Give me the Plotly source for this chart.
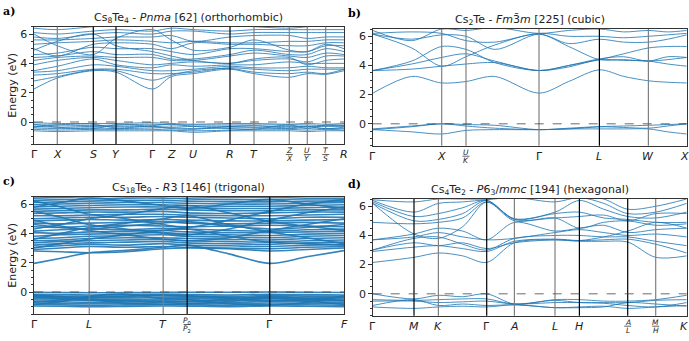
import plotly.graph_objects as go

# ---- panel a : Cs8Te4 Pnma ----
kpos_a = [0, 23.3, 59.3, 82, 118.7, 137.3, 159.3, 196, 220, 255.3, 273.3, 291.7, 310]
klab_a = ["Γ", "X", "S", "Y", "Γ", "Z", "U", "R", "T", "Z|X", "U|Y", "T|S", "R"]
kdark_a = ["S", "Y", "R"]
bands_a = [
    [-0.05, -0.1, -0.1, -0.1, -0.05, -0.1, -0.15, -0.1, -0.1, -0.15, -0.1, -0.15, -0.1],
    [-0.2, -0.2, -0.25, -0.2, -0.15, -0.2, -0.2, -0.2, -0.2, -0.2, -0.2, -0.25, -0.2],
    [-0.3, -0.35, -0.3, -0.3, -0.3, -0.35, -0.3, -0.3, -0.35, -0.3, -0.3, -0.3, -0.3],
    [-0.4, -0.45, -0.4, -0.45, -0.4, -0.4, -0.45, -0.4, -0.4, -0.45, -0.4, -0.45, -0.45],
    [-0.5, -0.55, -0.5, -0.5, -0.5, -0.55, -0.6, -0.55, -0.5, -0.5, -0.55, -0.5, -0.55],
    [-0.6, -0.65, -0.6, -0.6, -0.6, -0.6, -0.7, -0.6, -0.6, -0.6, -0.65, -0.6, -0.6],
    [-0.15, -0.35, -0.45, -0.2, -0.3, -0.45, -0.5, -0.3, -0.25, -0.4, -0.3, -0.45, -0.35],
    [-0.35, -0.2, -0.15, -0.4, -0.25, -0.15, -0.3, -0.45, -0.5, -0.2, -0.45, -0.2, -0.25],
    [2.25, 3.0, 3.5, 3.4, 2.25, 3.1, 3.3, 3.6, 3.3, 3.05, 3.3, 3.25, 3.5],
    [2.8, 3.1, 3.55, 3.5, 2.85, 3.2, 3.5, 3.65, 3.4, 3.3, 3.4, 3.3, 3.6],
    [3.2, 3.3, 3.6, 3.6, 3.3, 3.3, 3.4, 3.7, 3.6, 3.5, 3.6, 3.6, 3.6],
    [3.4, 3.5, 3.9, 3.8, 3.5, 3.5, 3.6, 3.8, 3.7, 3.7, 3.8, 3.7, 3.7],
    [3.5, 3.8, 4.3, 3.9, 3.7, 3.9, 3.8, 3.9, 3.9, 4.1, 4.0, 4.0, 4.0],
    [3.9, 4.2, 4.4, 4.2, 3.9, 4.0, 4.1, 4.0, 4.2, 4.3, 4.1, 4.5, 4.5],
    [4.2, 4.4, 4.5, 4.4, 4.4, 4.2, 4.2, 4.5, 4.7, 4.5, 4.4, 4.7, 4.6],
    [4.4, 4.5, 4.8, 4.6, 4.6, 4.3, 4.3, 4.6, 4.9, 4.6, 4.6, 5.0, 4.8],
    [4.6, 4.7, 5.1, 5.0, 5.0, 4.8, 4.6, 5.0, 5.0, 4.8, 4.8, 5.2, 5.2],
    [5.0, 4.5, 5.3, 5.4, 5.3, 5.0, 5.4, 5.3, 5.3, 5.2, 5.2, 5.4, 5.4],
    [5.3, 5.4, 5.5, 5.6, 5.5, 5.4, 5.5, 5.4, 5.4, 5.5, 5.5, 5.6, 5.6],
    [5.6, 5.6, 5.7, 5.8, 5.8, 5.9, 5.5, 5.8, 5.9, 5.9, 5.7, 5.8, 5.8],
    [5.8, 5.7, 6.0, 6.1, 6.0, 6.2, 6.2, 6.0, 6.1, 6.1, 6.1, 6.1, 6.1],
    [6.1, 6.0, 6.2, 6.3, 6.2, 6.4, 6.3, 6.2, 6.3, 6.3, 6.3, 6.3, 6.3],
    [6.4, 6.3, 6.5, 6.6, 6.6, 6.6, 6.6, 6.6, 6.5, 6.4, 6.5, 6.6, 6.5],
    [4.9, 5.5, 6.0, 5.2, 4.8, 4.5, 4.2, 4.0, 4.3, 4.4, 3.9, 4.2, 4.3],
    [6.0, 5.2, 4.6, 5.7, 6.3, 5.6, 4.9, 5.1, 5.6, 4.9, 4.8, 5.3, 5.0],
]

# ---- panel b : Cs2Te Fm-3m ----
kpos_b = [0, 69, 93.3, 166.3, 226.7, 275.7, 314]
klab_b = ["Γ", "X", "U|K", "Γ", "L", "W", "X"]
kdark_b = ["L"]
path_b = [0, 39, 69, 93.3, 122, 166.3, 196, 226.7, 251, 275.7, 295, 314]
bands_b = [
    [-0.35, -0.15, 0.0, -0.05, -0.1, -0.4, -0.3, -0.2, -0.25, -0.3, -0.15, 0.0],
    [-0.4, -0.55, -0.7, -0.45, -0.4, -0.4, -0.35, -0.2, -0.15, -0.1, -0.05, 0.0],
    [-0.4, -0.2, 0.0, -0.15, -0.3, -0.4, -0.35, -0.35, -0.35, -0.35, -0.55, -0.7],
    [2.1, 3.25, 2.8, 2.9, 3.25, 2.1, 2.9, 3.7, 3.25, 2.95, 2.85, 2.8],
    [3.65, 3.75, 3.95, 4.1, 4.2, 3.65, 3.9, 4.4, 4.35, 4.3, 4.1, 3.95],
    [3.65, 4.1, 4.55, 4.8, 4.3, 3.65, 4.0, 4.45, 4.6, 4.3, 4.6, 4.55],
    [3.65, 4.3, 5.3, 5.1, 4.2, 3.65, 4.0, 4.4, 4.8, 5.2, 5.3, 5.3],
    [6.15, 5.2, 3.95, 4.6, 5.4, 6.15, 5.3, 4.4, 4.4, 4.3, 4.4, 4.55],
    [6.15, 5.8, 6.1, 6.0, 5.1, 6.15, 5.5, 5.8, 5.6, 5.6, 5.8, 6.1],
    [6.2, 6.3, 6.2, 5.7, 5.6, 6.2, 6.0, 6.0, 5.9, 6.0, 6.1, 6.2],
    [6.4, 5.7, 6.5, 6.4, 6.6, 6.2, 6.4, 6.5, 6.3, 6.4, 6.3, 6.4],
]

# ---- panel c : Cs18Te9 R3 ----
kpos_c = [0, 55.3, 129.3, 153.3, 236, 310.3]
klab_c = ["Γ", "L", "T", "P0|P2", "Γ", "F"]
kdark_c = ["P0|P2", "Γ"]
path_c = [0, 27, 55.3, 92, 129.3, 153.3, 195, 236, 273, 310.3]
bands_c = [
    [-0.02, -0.03, -0.05, -0.04, -0.03, -0.02, -0.02, 0.0, -0.02, -0.03],
    [-0.15, -0.18, -0.2, -0.18, -0.15, -0.17, -0.2, -0.15, -0.18, -0.2],
    [-0.25, -0.28, -0.3, -0.27, -0.25, -0.28, -0.3, -0.25, -0.28, -0.3],
    [-0.35, -0.33, -0.38, -0.4, -0.35, -0.35, -0.38, -0.35, -0.37, -0.4],
    [-0.45, -0.45, -0.48, -0.5, -0.47, -0.45, -0.47, -0.45, -0.47, -0.5],
    [-0.55, -0.55, -0.58, -0.6, -0.57, -0.55, -0.57, -0.55, -0.57, -0.6],
    [-0.65, -0.67, -0.7, -0.68, -0.65, -0.66, -0.7, -0.65, -0.67, -0.7],
    [-0.75, -0.78, -0.8, -0.78, -0.75, -0.77, -0.8, -0.75, -0.77, -0.8],
    [-0.85, -0.87, -0.9, -0.88, -0.85, -0.86, -0.9, -0.85, -0.87, -0.9],
    [-0.95, -0.97, -1.0, -0.98, -0.95, -0.96, -1.0, -0.95, -0.97, -1.0],
    [-0.2, -0.35, -0.5, -0.6, -0.7, -0.65, -0.5, -0.3, -0.45, -0.6],
    [-0.7, -0.55, -0.4, -0.3, -0.2, -0.25, -0.4, -0.6, -0.5, -0.35],
    [-0.3, -0.45, -0.55, -0.75, -0.85, -0.8, -0.65, -0.4, -0.6, -0.85],
    [-0.85, -0.65, -0.3, -0.15, -0.45, -0.5, -0.8, -0.9, -0.7, -0.25],
    [1.95, 2.3, 2.68, 2.85, 3.05, 3.2, 2.6, 1.95, 2.4, 2.82],
    [2.8, 2.75, 2.68, 2.75, 2.95, 3.0, 2.95, 2.8, 2.9, 3.0],
    [2.9, 3.0, 3.1, 3.05, 3.1, 3.05, 3.0, 2.95, 3.05, 3.1],
    [3.05, 3.15, 3.25, 3.2, 3.3, 3.2, 3.15, 3.1, 3.2, 3.25],
    [3.2, 3.3, 3.35, 3.4, 3.45, 3.35, 3.3, 3.25, 3.35, 3.4],
    [3.35, 3.45, 3.5, 3.55, 3.6, 3.5, 3.45, 3.4, 3.5, 3.55],
    [3.5, 3.55, 3.65, 3.7, 3.7, 3.65, 3.6, 3.55, 3.65, 3.7],
    [3.65, 3.7, 3.8, 3.85, 3.9, 3.8, 3.75, 3.7, 3.8, 3.85],
    [3.8, 3.9, 3.95, 4.0, 4.05, 3.95, 3.9, 3.85, 3.95, 4.0],
    [4.05, 4.0, 4.1, 4.15, 4.2, 4.1, 4.05, 4.05, 4.1, 4.15],
    [4.15, 4.25, 4.3, 4.25, 4.35, 4.3, 4.2, 4.15, 4.25, 4.3],
    [4.45, 4.4, 4.5, 4.55, 4.5, 4.45, 4.5, 4.55, 4.5, 4.45],
    [4.7, 4.65, 4.7, 4.75, 4.8, 4.7, 4.65, 4.7, 4.75, 4.7],
    [4.85, 4.9, 4.95, 4.9, 4.95, 4.9, 4.85, 4.85, 4.9, 4.95],
    [5.0, 5.05, 5.1, 5.1, 5.15, 5.1, 5.05, 5.0, 5.1, 5.1],
    [5.2, 5.2, 5.25, 5.3, 5.3, 5.25, 5.2, 5.2, 5.25, 5.3],
    [5.35, 5.4, 5.45, 5.45, 5.5, 5.4, 5.35, 5.4, 5.45, 5.45],
    [5.5, 5.55, 5.6, 5.6, 5.65, 5.6, 5.55, 5.55, 5.6, 5.6],
    [5.65, 5.7, 5.75, 5.8, 5.8, 5.75, 5.7, 5.7, 5.75, 5.8],
    [5.8, 5.85, 5.9, 5.95, 5.95, 5.9, 5.85, 5.85, 5.9, 5.95],
    [5.95, 6.0, 6.05, 6.1, 6.1, 6.05, 6.0, 6.0, 6.05, 6.1],
    [6.1, 6.15, 6.2, 6.25, 6.25, 6.2, 6.15, 6.15, 6.2, 6.2],
    [6.25, 6.3, 6.35, 6.4, 6.4, 6.35, 6.3, 6.3, 6.35, 6.35],
    [6.4, 6.45, 6.5, 6.55, 6.55, 6.5, 6.45, 6.45, 6.5, 6.5],
    [3.6, 4.0, 4.4, 4.7, 5.0, 5.2, 4.6, 4.1, 3.7, 3.3],
    [5.5, 5.1, 4.6, 4.3, 4.0, 3.9, 4.3, 4.9, 5.4, 5.8],
    [4.3, 4.6, 5.0, 5.3, 5.7, 5.9, 5.4, 4.8, 4.5, 4.2],
    [6.2, 5.8, 5.3, 5.0, 4.6, 4.4, 4.9, 5.5, 6.0, 6.3],
    [3.0, 3.3, 3.6, 3.9, 4.2, 4.3, 3.8, 3.4, 3.3, 3.2],
    [4.9, 4.5, 4.2, 3.9, 3.6, 3.5, 3.7, 4.2, 4.6, 5.0],
    [5.8, 6.1, 6.4, 6.2, 5.9, 5.7, 6.0, 6.3, 6.0, 5.7],
    [4.6, 4.4, 4.3, 4.5, 4.7, 4.8, 4.5, 4.3, 4.4, 4.6],
]

# ---- panel d : Cs4Te2 P6_3/mmc ----
kpos_d = [0, 41.3, 65.7, 114, 141.7, 182.3, 206.7, 255, 283, 314]
klab_d = ["Γ", "M", "K", "Γ", "A", "L", "H", "A|L", "M|H", "K"]
kdark_d = ["M", "Γ", "H", "A|L"]
path_d = [0, 41.3, 65.7, 90, 114, 141.7, 182.3, 206.7, 231, 255, 283, 314]
bands_d = [
    [0.0, -0.35, -0.1, -0.2, 0.0, -0.7, -0.4, -0.4, -0.5, -0.5, -0.4, -0.1],
    [-0.4, -0.45, -0.4, -0.35, -0.35, -0.7, -0.45, -0.6, -0.6, -0.6, -0.45, -0.4],
    [-0.5, -0.5, -0.6, -0.55, -0.5, -0.7, -0.6, -0.6, -0.65, -0.8, -0.9, -0.6],
    [-0.8, -0.4, -0.8, -0.7, -0.8, -0.75, -0.95, -0.9, -0.85, -1.0, -0.9, -0.8],
    [-0.9, -1.0, -0.9, -0.85, -0.9, -0.75, -0.95, -0.95, -0.9, -0.6, -0.7, -0.85],
    [2.15, 2.5, 2.8, 2.6, 2.15, 3.5, 3.7, 3.6, 3.6, 3.55, 2.5, 2.6],
    [2.9, 3.2, 3.3, 3.1, 2.9, 3.6, 3.75, 3.65, 3.7, 3.75, 3.4, 2.8],
    [3.0, 3.8, 3.9, 3.4, 3.0, 3.8, 4.0, 4.0, 3.9, 3.9, 3.6, 3.3],
    [3.7, 3.9, 4.2, 3.9, 3.7, 3.8, 4.2, 4.4, 4.2, 4.0, 4.1, 3.9],
    [3.7, 4.1, 4.5, 4.3, 3.7, 4.9, 4.3, 4.5, 4.7, 4.2, 4.4, 4.5],
    [4.9, 4.8, 4.9, 5.2, 6.3, 5.0, 5.2, 4.5, 4.9, 5.0, 4.7, 4.8],
    [6.2, 5.0, 5.1, 5.5, 6.4, 5.1, 5.5, 5.6, 5.2, 5.1, 4.9, 4.9],
    [6.3, 5.3, 5.5, 5.9, 6.4, 5.15, 5.6, 6.4, 5.8, 5.3, 5.2, 5.6],
    [6.4, 5.6, 6.2, 6.3, 6.45, 6.6, 6.3, 6.6, 6.2, 5.5, 5.6, 6.2],
    [6.45, 6.3, 6.5, 6.5, 6.5, 6.7, 6.7, 6.7, 6.5, 5.8, 6.0, 6.5],
    [3.0, 3.5, 3.3, 3.5, 3.1, 3.5, 3.7, 3.65, 3.9, 4.3, 4.9, 4.5],
    [6.2, 4.1, 3.8, 4.6, 6.3, 5.1, 5.2, 5.3, 5.4, 5.0, 5.5, 5.5],
]

titles = [
    "Cs<sub>8</sub>Te<sub>4</sub> - <i>Pnma</i> [62] (orthorhombic)",
    "Cs<sub>2</sub>Te - <i>Fm</i>3\u0304<i>m</i> [225] (cubic)",
    "Cs<sub>18</sub>Te<sub>9</sub> - <i>R</i>3 [146] (trigonal)",
    "Cs<sub>4</sub>Te<sub>2</sub> - <i>P</i>6<sub>3</sub>/<i>mmc</i> [194] (hexagonal)",
]
letters = ["a)", "b)", "c)", "d)"]

W, H = 689, 341
# plot boxes in pixels: left, right, top, bottom
boxes = [(34, 344, 26.7, 144), (372.7, 686.7, 29, 145.7),
         (34, 344, 196.7, 314), (372.7, 686.7, 199, 315.7)]

BLUE = "#1f77b4"
FONT = "DejaVu Sans"
TXT = "#222"


def sym(s):
    if s == "Γ":
        return "Γ"
    if len(s) == 2 and s[1].isdigit():
        return "<i>%s</i><sub>%s</sub>" % (s[0], s[1])
    return "<i>%s</i>" % s


panels = [
    (kpos_a, klab_a, kdark_a, kpos_a, bands_a),
    (kpos_b, klab_b, kdark_b, path_b, bands_b),
    (kpos_c, klab_c, kdark_c, path_c, bands_c),
    (kpos_d, klab_d, kdark_d, path_d, bands_d),
]

fig = go.Figure()
shapes = []
annotations = []
layout = {}

for i, (kpos, klab, kdark, path, bands) in enumerate(panels):
    n = "" if i == 0 else str(i + 1)
    xa, ya = "x" + n, "y" + n
    l, r, t, b = boxes[i]
    lw = 1.6 if i == 2 else 0.9
    for band in bands:
        fig.add_trace(go.Scatter(x=path, y=band, mode="lines", xaxis=xa, yaxis=ya,
                                 line=dict(color=BLUE, width=lw, shape="spline", smoothing=0.9),
                                 opacity=0.9, showlegend=False, hoverinfo="skip"))
    layout["xaxis" + n] = dict(
        domain=[l / W, r / W], anchor=ya, range=[kpos[0], kpos[-1]],
        showticklabels=False, ticks="", showgrid=False, zeroline=False,
        showline=True, mirror=True, linecolor="#333", linewidth=1.2, automargin=False)
    layout["yaxis" + n] = dict(
        domain=[1 - b / H, 1 - t / H], anchor=xa, range=[-1.5, 6.5],
        tickmode="linear", tick0=0, dtick=2, ticks="outside", ticklen=3.5, tickcolor="#333",
        minor=dict(dtick=0.5, tick0=0, ticks="outside", ticklen=2, tickcolor="#333", showgrid=False),
        showgrid=False, zeroline=False, showline=True, mirror=True, automargin=False,
        linecolor="#333", linewidth=1.2, tickfont=dict(family=FONT, size=11, color=TXT))
    if i in (0, 2):
        layout["yaxis" + n]["title"] = dict(text="Energy (eV)", standoff=1,
                                            font=dict(family=FONT, size=11, color=TXT))
    # high-symmetry vertical lines
    for pos, lab in zip(kpos[1:-1], klab[1:-1]):
        dark = lab in kdark
        shapes.append(dict(type="line", xref=xa, yref=ya + " domain", x0=pos, x1=pos, y0=0, y1=1,
                           line=dict(color="black" if dark else "#808080", width=1.2)))
    shapes.append(dict(type="line", xref=xa + " domain", yref=ya, x0=0, x1=1, y0=0, y1=0,
                       line=dict(color="#444", width=0.8, dash="dash")))
    # k-point labels under the axis
    span = kpos[-1] - kpos[0]
    for pos, lab in zip(kpos, klab):
        xpix = min(l + (pos - kpos[0]) / span * (r - l), W - 5)
        xp = xpix / W
        if "|" in lab:
            top, bot = lab.split("|")
            for txt, dy in ((top, 6.5), (bot, 14.5)):
                annotations.append(dict(text=sym(txt), xref="paper", yref="paper", x=xp,
                                        y=1 - (b + dy) / H, xanchor="center", yanchor="middle",
                                        showarrow=False, font=dict(family=FONT, size=7.5, color=TXT)))
            shapes.append(dict(type="line", xref="paper", yref="paper",
                               x0=xp - 3.5 / W, x1=xp + 3.5 / W, y0=1 - (b + 10.5) / H, y1=1 - (b + 10.5) / H,
                               line=dict(color=TXT, width=0.7)))
        else:
            annotations.append(dict(text=sym(lab), xref="paper", yref="paper", x=xp,
                                    y=1 - (b + 10.5) / H, xanchor="center", yanchor="middle",
                                    showarrow=False, font=dict(family=FONT, size=11, color=TXT)))
    annotations.append(dict(text=titles[i], xref="paper", yref="paper",
                            x=(l + r) / 2 / W, y=1 - t / H, xanchor="center", yanchor="bottom",
                            yshift=0, showarrow=False, font=dict(family=FONT, size=11, color=TXT)))
    annotations.append(dict(text="<b>%s</b>" % letters[i], xref="paper", yref="paper",
                            x=(1 if i in (0, 2) else 346) / W, y=1 - (t - 15) / H,
                            xanchor="left", yanchor="middle", showarrow=False,
                            font=dict(family="DejaVu Serif", size=11, color="black")))

fig.update_layout(width=W, height=H, margin=dict(l=0, r=0, t=0, b=0),
                  paper_bgcolor="white", plot_bgcolor="white",
                  shapes=shapes, annotations=annotations, **layout)

# the page body has a default 8px margin; drop it so the figure fills the window
fig.write_html("out.html", config={"displayModeBar": False},
               post_script="document.body.style.margin='0';")
